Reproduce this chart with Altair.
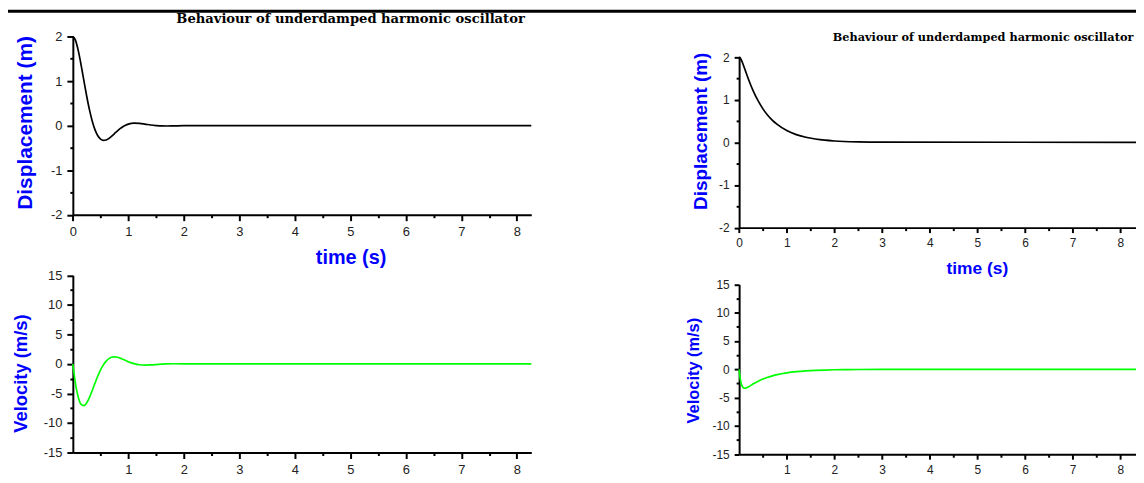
import altair as alt
import pandas as pd

TITLE = "Behaviour of underdamped harmonic oscillator"

# ---- left figure (underdamped) ----
t_left = [0.00, 0.05, 0.10, 0.15, 0.20, 0.25, 0.30, 0.35, 0.40, 0.45, 0.50,
          0.55, 0.60, 0.65, 0.70, 0.75, 0.80, 0.85, 0.90, 0.95, 1.00, 1.10,
          1.20, 1.30, 1.40, 1.50, 1.60, 1.70, 1.80, 2.00, 3.00, 8.26]
disp_left = [2.000, 1.907, 1.671, 1.353, 1.002, 0.659, 0.352, 0.097, -0.095,
             -0.227, -0.303, -0.331, -0.323, -0.288, -0.237, -0.179, -0.122,
             -0.069, -0.025, 0.009, 0.034, 0.055, 0.049, 0.032, 0.013, 0.000,
             -0.008, -0.009, -0.007, -0.001, 0.0, 0.0]
vel_left = [0.00, -3.50, -5.73, -6.85, -7.05, -6.58, -5.66, -4.49, -3.24,
            -2.05, -1.00, -0.16, 0.47, 0.89, 1.12, 1.18, 1.12, 0.98, 0.79,
            0.59, 0.38, 0.05, -0.14, -0.19, -0.17, -0.11, -0.04, 0.01, 0.03,
            0.02, 0.0, 0.0]

# ---- right figure ----
t_right = [0.000, 0.025, 0.050, 0.075, 0.100, 0.125, 0.150, 0.200, 0.300,
           0.400, 0.500, 0.600, 0.700, 0.800, 1.000, 1.200, 1.400, 1.600,
           1.800, 2.000, 2.200, 2.500, 3.000, 8.33]
disp_right = [2.000, 1.977, 1.924, 1.855, 1.779, 1.701, 1.622, 1.468, 1.195,
              0.970, 0.785, 0.635, 0.515, 0.420, 0.275, 0.180, 0.118, 0.078,
              0.050, 0.032, 0.020, 0.010, 0.004, 0.0]
vel_right = [0.00, -1.75, -2.67, -3.12, -3.31, -3.34, -3.28, -3.07, -2.55,
             -2.10, -1.72, -1.41, -1.15, -0.94, -0.63, -0.42, -0.28, -0.19,
             -0.13, -0.08, -0.05, -0.03, -0.01, 0.0]

x_major = [0, 1, 2, 3, 4, 5, 6, 7, 8]
x_minor = [0.5, 1.5, 2.5, 3.5, 4.5, 5.5, 6.5, 7.5]
vel_x_labels = [1, 2, 3, 4, 5, 6, 7, 8]
disp_major = [-2, -1, 0, 1, 2]
disp_minor = [-1.5, -0.5, 0.5, 1.5]
vel_major = [-15, -10, -5, 0, 5, 10, 15]
vel_minor = [-12.5, -7.5, -2.5, 2.5, 7.5, 12.5]

W, H = 1136, 475
BLUE = "#0000ff"
LAB = "#222222"


def axis_common(**kw):
    base = dict(grid=False, domainColor="black", domainWidth=2,
                tickColor="black", tickWidth=2, labelFont="Liberation Sans",
                labelColor=LAB, labelFlush=False, labelOverlap=False,
                titleFont="Liberation Sans", titleFontWeight="bold",
                titleColor=BLUE, titleBaseline="middle",
                labelExpr="'' + datum.value")
    base.update(kw)
    return alt.Axis(**base)


def panel(df, ycol, color, xr, yr, xdom, ydom, ymaj, ymin, xlab,
          ytitle, ytx, yty, yfs, xtitle, xtx, xty, xfs, labfs, tsize):
    xoff = yr[0] - H
    yoff = -xr[0]
    xs = alt.Scale(domain=xdom, range=xr)
    ys = alt.Scale(domain=ydom, range=yr)
    xaxis_kw = dict(orient="bottom", offset=xoff, values=xlab,
                    tickSize=tsize, labelFontSize=labfs, labelPadding=5)
    if xtitle:
        xaxis_kw.update(title=xtitle, titleX=xtx, titleY=xty,
                        titleFontSize=xfs, titleAngle=0)
    else:
        xaxis_kw.update(title="")
    main = alt.Chart(df).mark_line(color=color, strokeWidth=1.7,
                                   interpolate="monotone").encode(
        x=alt.X("t:Q", scale=xs, axis=axis_common(**xaxis_kw)),
        y=alt.Y(f"{ycol}:Q", scale=ys, axis=axis_common(
            orient="left", offset=yoff, values=ymaj, tickSize=tsize,
            labelFontSize=labfs, labelPadding=5, title=ytitle,
            titleX=ytx, titleY=yty, titleFontSize=yfs, titleAngle=-90)),
    )
    minor = alt.Chart(df).mark_line(opacity=0).encode(
        x=alt.X("t:Q", scale=xs, axis=axis_common(
            orient="bottom", offset=xoff, values=x_minor, tickSize=3,
            labels=False, domain=False, title="")),
        y=alt.Y(f"{ycol}:Q", scale=ys, axis=axis_common(
            orient="left", offset=yoff, values=ymin, tickSize=3,
            labels=False, domain=False, title="")),
    )
    return [main, minor]


df_l = pd.DataFrame({"t": t_left, "disp": disp_left, "vel": vel_left})
df_r = pd.DataFrame({"t": t_right, "disp": disp_right, "vel": vel_right})

layers = []
# left displacement
layers += panel(df_l, "disp", "black", [65.3, 527], [206.5, 27], [0, 8.26],
                [-2, 2], disp_major, disp_minor, x_major,
                "Displacement (m)", -47.3, 113.5, 21,
                "time (s)", 345, 43.5, 20, 13, 6)
# left velocity
layers += panel(df_l, "vel", "#00ff00", [65.3, 527], [446, 267.5], [0, 8.26],
                [-15, 15], vel_major, vel_minor, vel_x_labels,
                "Velocity (m/s)", -52.3, 366, 18.5,
                None, 0, 0, 0, 13, 6)
# right displacement
layers += panel(df_r, "disp", "black", [736.3, 1136], [219.5, 47.7], [0, 8.33],
                [-2, 2], disp_major, disp_minor, x_major,
                "Displacement (m)", -39.3, 122, 19,
                "time (s)", 975.7, 41.5, 17.5, 12, 5)
# right velocity
layers += panel(df_r, "vel", "#00ff00", [736.3, 1136], [447.7, 276.7],
                [0, 8.33], [-15, 15], vel_major, vel_minor, vel_x_labels,
                "Velocity (m/s)", -46.3, 363, 16.5,
                None, 0, 0, 0, 12, 5)

titles = pd.DataFrame({"label": [TITLE, TITLE]})
title_l = alt.Chart(titles.iloc[[0]]).mark_text(
    font="DejaVu Serif", fontWeight="bold", fontSize=13.2, color="black",
    align="center", baseline="middle").encode(
    text="label:N", x=alt.value(345), y=alt.value(9))
title_r = alt.Chart(titles.iloc[[1]]).mark_text(
    font="DejaVu Serif", fontWeight="bold", fontSize=11.4, color="black",
    align="center", baseline="middle").encode(
    text="label:N", x=alt.value(982), y=alt.value(29))
bar = alt.Chart(pd.DataFrame({"a": [0]})).mark_rule(
    color="black", strokeWidth=3).encode(
    x=alt.value(0), x2=alt.value(W), y=alt.value(1.5))

chart = alt.layer(*layers, title_l, title_r, bar).resolve_scale(
    x="independent", y="independent").resolve_axis(
    x="independent", y="independent").properties(
    width=W, height=H, padding=0,
    autosize=alt.AutoSizeParams(type="none")).configure_view(strokeWidth=0)

chart.save("out.html", embed_options={"renderer": "svg", "actions": False})
